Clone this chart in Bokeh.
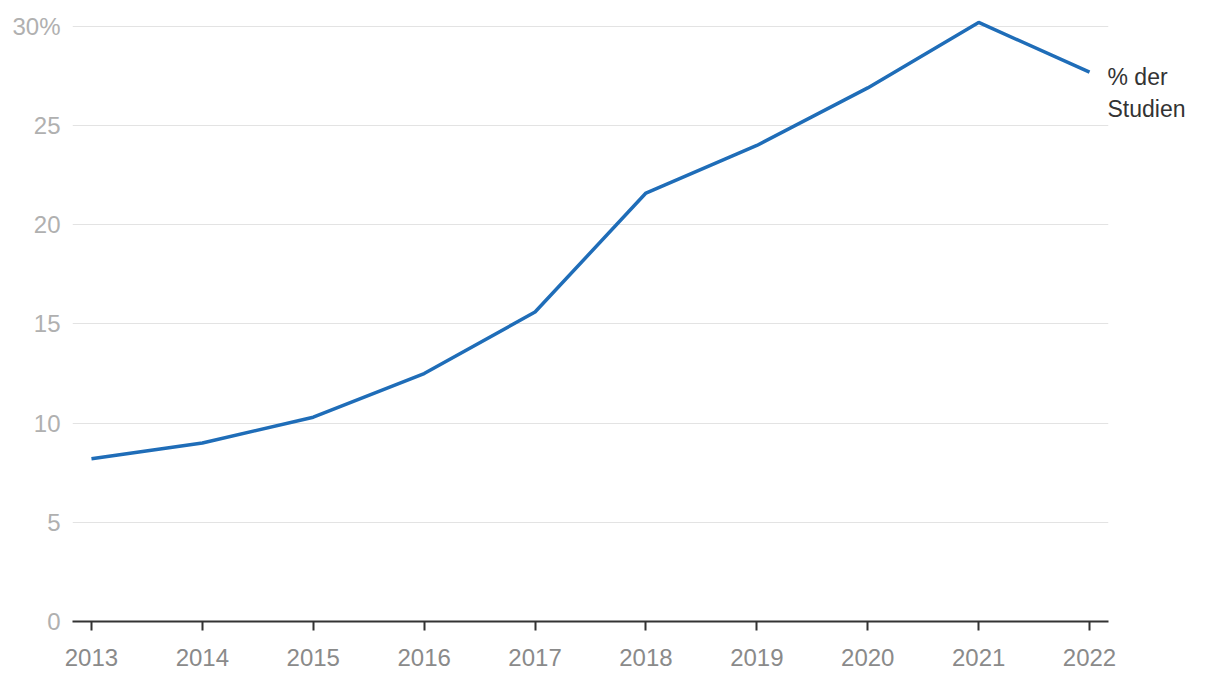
from bokeh.plotting import figure
from bokeh.models import FixedTicker, LinearAxis, Range1d
from bokeh.embed import file_html
from bokeh.resources import INLINE

years = [2013, 2014, 2015, 2016, 2017, 2018, 2019, 2020, 2021, 2022]
share = [8.2, 9.0, 10.3, 12.5, 15.6, 21.6, 24.0, 26.9, 30.2, 27.7]
y_ticks = [0, 5, 10, 15, 20, 25, 30]
y_tick_labels = {0: "0", 5: "5", 10: "10", 15: "15", 20: "20", 25: "25", 30: "30%"}
series_label = "% der\nStudien"

FONT = "Liberation Sans"

p = figure(width=1220, height=684, output_backend="svg", toolbar_location=None,
           x_range=Range1d(2012.829, 2022.171), y_range=Range1d(0, 30.5),
           min_border_left=72, min_border_right=112, min_border_top=16, min_border_bottom=63)
p.outline_line_color = None
p.background_fill_color = "white"
p.border_fill_color = "white"

p.line(years, share, line_color="#1f6db8", line_width=3.5)

p.xgrid.grid_line_color = None
p.ygrid.grid_line_color = "#e3e3e3"
p.ygrid.grid_line_width = 1
p.ygrid.ticker = FixedTicker(ticks=y_ticks)

p.yaxis.ticker = FixedTicker(ticks=y_ticks)
p.yaxis.major_label_overrides = {k: v for k, v in y_tick_labels.items()}
p.yaxis.axis_line_color = None
p.yaxis.major_tick_line_color = None
p.yaxis.minor_tick_line_color = None
p.yaxis.major_label_text_color = "#b0b0b0"
p.yaxis.major_label_text_font = FONT
p.yaxis.major_label_text_font_size = "24px"
p.yaxis.major_label_standoff = 6

p.xaxis.ticker = FixedTicker(ticks=years)
p.xaxis.axis_line_color = "#333333"
p.xaxis.axis_line_width = 2
p.xaxis.major_tick_line_color = "#333333"
p.xaxis.major_tick_line_width = 2
p.xaxis.major_tick_out = 9
p.xaxis.major_tick_in = 0
p.xaxis.minor_tick_line_color = None
p.xaxis.major_label_text_color = "#8a8a8a"
p.xaxis.major_label_text_font = FONT
p.xaxis.major_label_text_font_size = "24px"
p.xaxis.major_label_standoff = 18

# series label at the end of the line, via a right-side axis
label_pos = share[-1] - 1.05
right = LinearAxis(ticker=FixedTicker(ticks=[label_pos]),
                   major_label_overrides={label_pos: series_label})
right.axis_line_color = None
right.major_tick_line_color = None
right.minor_tick_line_color = None
right.major_label_standoff = -7
right.major_label_text_color = "#333333"
right.major_label_text_font = FONT
right.major_label_text_font_size = "23px"
right.major_label_text_line_height = 1.22
p.add_layout(right, "right")

open("out.html", "w").write(file_html(p, INLINE))
